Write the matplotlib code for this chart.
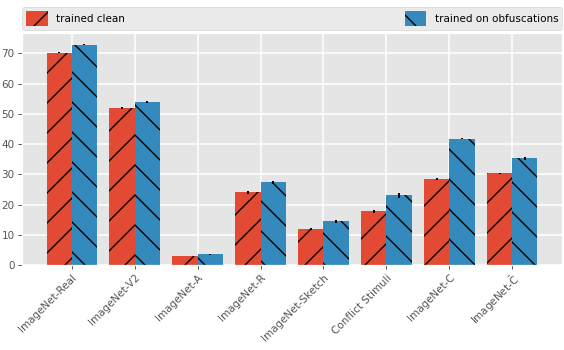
import numpy as np
import matplotlib
matplotlib.use('Agg')
from matplotlib import pyplot as plt

plt.style.use('ggplot')

datasets = ['ImageNet-Real', 'ImageNet-V2', 'ImageNet-A', 'ImageNet-R',
            'ImageNet-Sketch', 'Conflict Stimuli', 'ImageNet-C',
            r'ImageNet-$\bar{\mathrm{C}}$']
clean = [70.3, 52.0, 3.0, 24.1, 11.9, 17.8, 28.4, 30.4]
clean_err = [0.2, 0.3, 0.1, 0.5, 0.4, 0.5, 0.3, 0.2]
obf = [72.9, 53.8, 3.5, 27.4, 14.5, 23.1, 41.8, 35.3]
obf_err = [0.2, 0.3, 0.1, 0.5, 0.5, 0.8, 0.2, 0.4]

# dpi picked so the hatch lines come out as sparse as in the reference
dpi = 90
s = 100 / dpi  # point sizes below are given for a 100 dpi figure
plt.rcParams['hatch.linewidth'] = 1.0 * s
plt.rcParams['font.size'] = 7.5 * s

fig = plt.figure(figsize=(564 / dpi, 350 / dpi), dpi=dpi)
ax = fig.add_axes([22 / 564, 85 / 350, 540 / 564, 232 / 350])

x = np.arange(len(datasets))
w = 0.4
err_kw = dict(elinewidth=1.4 * s, ecolor='black', capsize=0)
ax.bar(x - w / 2, clean, w, yerr=clean_err, color='#E24A33', hatch='/',
       edgecolor='black', linewidth=0, error_kw=err_kw, label='trained clean')
ax.bar(x + w / 2, obf, w, yerr=obf_err, color='#348ABD', hatch='\\',
       edgecolor='black', linewidth=0, error_kw=err_kw,
       label='trained on obfuscations')

ax.set_xticks(x)
ax.set_xticklabels(datasets, rotation=45, ha='right', rotation_mode='anchor')
ax.set_yticks(range(0, 80, 10))
ax.tick_params(labelsize=7.5 * s, length=2.7 * s, width=0.7 * s, pad=2.7 * s)
ax.grid(color='white', linewidth=1.1 * s)

ax.legend(bbox_to_anchor=(0, 1.015, 1, 0.2), loc='lower left', mode='expand',
          ncol=2, borderaxespad=0, fontsize=7.5 * s, handlelength=2.1,
          handleheight=1.8, borderpad=0.35, handletextpad=0.8)

fig.savefig('out.png', dpi=dpi)
